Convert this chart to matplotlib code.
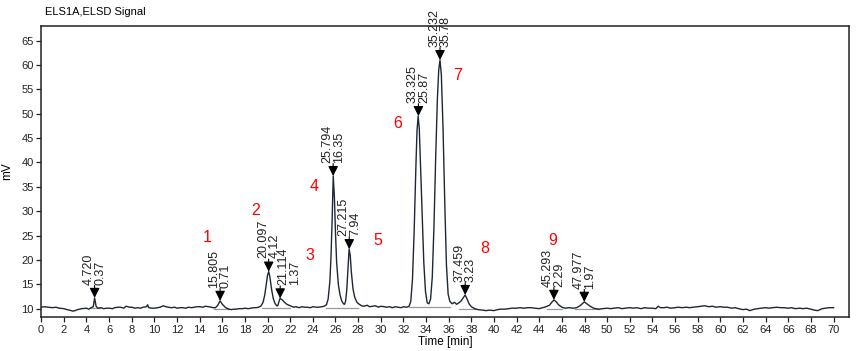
#!/usr/bin/env python3
"""ELSD chromatogram (ELS1A) with peak labels, redrawn with matplotlib."""

import matplotlib
matplotlib.use("Agg")
import matplotlib.pyplot as plt

plt.rcParams["font.family"] = ["Liberation Sans", "DejaVu Sans"]

# trace: time [min], signal [mV]
time_min = [
    0.0, 0.3, 0.6, 1.0, 1.3, 1.6, 2.0, 2.3, 2.5, 2.8, 3.0, 3.2, 3.6, 4.0, 4.2, 4.4,
    4.6, 4.72, 4.85, 5.0, 5.3, 5.5, 5.8, 6.0, 6.3, 6.5, 6.8, 7.0, 7.3, 7.5, 7.8,
    8.0, 8.3, 8.5, 8.8, 9.0, 9.3, 9.4, 9.5, 9.8, 10.0, 10.3, 10.5, 10.8, 11.0,
    11.2, 11.5, 11.8, 12.0, 12.3, 12.5, 12.8, 13.0, 13.3, 13.5, 13.8, 14.0, 14.3,
    14.5, 14.8, 15.0, 15.2, 15.4, 15.6, 15.8, 16.0, 16.3, 16.6, 16.8, 17.0, 17.2,
    17.5, 17.8, 18.0, 18.3, 18.5, 18.8, 19.0, 19.2, 19.4, 19.6, 19.75, 19.9, 20.0,
    20.1, 20.2, 20.35, 20.5, 20.65, 20.8, 20.9, 21.0, 21.1, 21.3, 21.5, 21.7,
    22.0, 22.3, 22.5, 22.8, 23.0, 23.3, 23.5, 23.8, 24.0, 24.3, 24.5, 24.8, 25.0,
    25.2, 25.35, 25.5, 25.6, 25.7, 25.8, 25.9, 26.0, 26.1, 26.25, 26.4, 26.55,
    26.7, 26.8, 26.9, 27.0, 27.1, 27.2, 27.3, 27.4, 27.55, 27.7, 27.9, 28.1,
    28.3, 28.5, 28.8, 29.0, 29.3, 29.5, 29.8, 30.0, 30.3, 30.5, 30.8, 31.0,
    31.3, 31.5, 31.8, 32.0, 32.3, 32.5, 32.65, 32.8, 32.95, 33.1, 33.2, 33.3,
    33.4, 33.5, 33.65, 33.8, 33.95, 34.1, 34.25, 34.4, 34.55, 34.7, 34.85, 35.0,
    35.12, 35.23, 35.35, 35.5, 35.65, 35.8, 35.95, 36.1, 36.3, 36.5, 36.7, 36.9,
    37.1, 37.3, 37.45, 37.6, 37.8, 38.0, 38.3, 38.6, 39.0, 39.3, 39.6, 40.0,
    40.3, 40.6, 41.0, 41.3, 41.6, 42.0, 42.3, 42.6, 43.0, 43.3, 43.6, 44.0,
    44.3, 44.6, 44.9, 45.1, 45.3, 45.5, 45.7, 46.0, 46.3, 46.6, 47.0, 47.3,
    47.6, 47.8, 47.98, 48.2, 48.5, 48.8, 49.0, 49.3, 49.6, 50.0, 50.3, 50.6,
    51.0, 51.3, 51.6, 52.0, 52.3, 52.6, 53.0, 53.3, 53.6, 54.0, 54.3, 54.5,
    54.7, 55.0, 55.3, 55.6, 56.0, 56.3, 56.6, 57.0, 57.3, 57.6, 58.0, 58.3,
    58.6, 59.0, 59.3, 59.6, 60.0, 60.3, 60.6, 61.0, 61.3, 61.6, 62.0, 62.3,
    62.6, 63.0, 63.3, 63.6, 64.0, 64.3, 64.6, 65.0, 65.3, 65.6, 66.0, 66.3,
    66.6, 67.0, 67.3, 67.6, 68.0, 68.3, 68.6, 69.0, 69.3, 69.6, 70.0,
]
signal_mv = [
    10.3, 10.4, 10.3, 10.2, 10.3, 10.1, 10.0, 9.8, 9.7, 9.5, 9.6, 9.8, 10.0, 10.1, 9.9, 10.2,
    10.4, 12.2, 10.5, 10.1, 10.2, 10.0, 10.1, 10.1, 10.0, 10.2, 10.3, 10.3, 10.1, 10.5, 10.3,
    10.3, 10.1, 10.2, 10.1, 10.3, 10.4, 10.8, 10.2, 10.1, 10.1, 10.2, 10.3, 10.6, 10.4,
    10.3, 10.2, 10.3, 10.1, 10.2, 10.2, 10.1, 10.3, 10.2, 10.3, 10.4, 10.4, 10.3,
    10.5, 10.4, 10.3, 10.2, 10.2, 10.7, 11.6, 10.9, 10.2, 9.9, 9.8, 9.9, 9.9,
    10.0, 10.0, 10.1, 10.0, 10.1, 10.2, 10.2, 10.3, 10.5, 11.3, 12.8, 15.2, 16.9,
    17.6, 16.6, 14.0, 12.1, 11.1, 10.6, 10.6, 11.4, 12.1, 11.8, 11.3, 10.9,
    10.6, 10.3, 10.4, 10.2, 10.4, 10.3, 10.3, 10.2, 10.4, 10.3, 10.3, 10.4, 10.5,
    10.8, 12.0, 15.5, 20.5, 28.0, 37.2, 33.0, 25.5, 19.5, 15.0, 12.8, 11.6,
    11.0, 10.9, 11.6, 14.0, 18.0, 22.2, 21.0, 17.5, 14.0, 12.3, 11.3, 10.9,
    10.6, 10.5, 10.7, 10.4, 10.5, 10.6, 10.3, 10.5, 10.4, 10.3, 10.4, 10.2,
    10.4, 10.3, 10.2, 10.4, 10.3, 10.5, 11.5, 16.0, 26.0, 39.0, 46.5, 49.5,
    47.0, 40.0, 29.0, 19.5, 13.5, 11.2, 11.0, 12.0, 16.5, 27.0, 41.0, 53.0,
    59.0, 61.0, 58.0, 47.0, 32.0, 19.0, 13.0, 11.5, 11.0, 11.3, 10.9, 11.2,
    11.6, 12.3, 12.8, 12.1, 11.0, 10.4, 10.0, 9.8, 9.7, 9.6, 9.7, 9.6,
    9.8, 9.9, 9.9, 10.0, 10.1, 10.1, 10.2, 10.1, 10.2, 10.2, 10.1, 10.0,
    10.2, 10.4, 10.7, 11.3, 11.8, 11.4, 10.8, 10.3, 10.1, 10.2, 10.1, 10.2,
    10.6, 11.0, 11.4, 11.0, 10.5, 10.1, 10.0, 9.9, 10.0, 10.1, 10.0, 10.1,
    10.2, 10.0, 10.1, 10.2, 10.1, 10.2, 10.0, 10.2, 10.1, 10.1, 10.0, 10.5,
    10.2, 10.2, 10.3, 10.1, 10.2, 10.3, 10.2, 10.3, 10.2, 10.3, 10.4, 10.5,
    10.6, 10.4, 10.5, 10.3, 10.4, 10.3, 10.3, 10.1, 10.2, 10.0, 9.8, 9.9,
    9.6, 9.9, 10.0, 10.1, 10.2, 10.1, 10.2, 10.3, 10.2, 10.2, 10.1, 10.2,
    10.0, 10.1, 10.0, 10.1, 9.9, 9.7, 9.6, 10.0, 10.1, 10.2, 10.2,
]

# integrated peaks: retention time, apex height, area label
peak_rt = [4.720, 15.805, 20.097, 21.114, 25.794, 27.215, 33.325, 35.232, 37.459, 45.293, 47.977]
peak_top = [12.2, 11.6, 17.6, 12.1, 37.2, 22.2, 49.5, 61.0, 12.8, 11.8, 11.4]
peak_area = ["0.37", "0.71", "4.12", "1.37", "16.35", "7.94", "25.87", "35.78", "3.23", "2.29", "1.97"]
# sideways nudge of a label (pixels), for the crowded one at 21.114
label_dx = [0, 0, 0, 9, 0, 0, 0, 0, 0, 0, 0]

# integration baselines (start, end) drawn in grey under the peaks
base_start = [4.4, 15.3, 19.5, 25.2, 32.5, 36.9, 44.7, 47.2]
base_end = [5.2, 16.6, 22.0, 28.0, 36.1, 38.4, 46.0, 49.3]
base_level = [10.1, 10.0, 10.2, 10.2, 10.3, 10.0, 10.0, 9.9]

# red compound numbers and where they sit
cmpd_names = ["1", "2", "3", "4", "5", "6", "7", "8", "9"]
cmpd_x = [14.7, 18.9, 23.7, 24.1, 29.7, 31.5, 36.8, 39.2, 45.2]
cmpd_y = [24.5, 30.1, 20.9, 35.1, 24.0, 47.9, 57.8, 22.4, 23.9]


def main() -> int:
    fig = plt.figure(figsize=(8.58, 3.51), dpi=100)
    ax = fig.add_axes([0.048, 0.097, 0.942, 0.829])

    for s, e, lv in zip(base_start, base_end, base_level):
        ax.plot([s, e], [lv, lv], color="#9a9a9a", lw=0.9, zorder=1)

    ax.plot(time_min, signal_mv, color="#1f2733", lw=1.0, zorder=2)

    for rt, top, area, dx in zip(peak_rt, peak_top, peak_area, label_dx):
        # short shaft + filled downward triangle, tip on the apex
        ax.annotate("", xy=(rt, top), xytext=(0, 9), textcoords="offset points",
                    arrowprops=dict(arrowstyle="-|>,head_length=0.6,head_width=0.3",
                                    color="black", lw=0.8, mutation_scale=10,
                                    shrinkA=0, shrinkB=0))
        ax.annotate(f"{rt:.3f}\n{area}", xy=(rt, top), xytext=(dx * 0.72, 9.5),
                    textcoords="offset points", rotation=90, ha="center", va="bottom",
                    multialignment="left", fontsize=9, linespacing=0.95,
                    color="#222222", annotation_clip=False)

    for name, x, y in zip(cmpd_names, cmpd_x, cmpd_y):
        ax.text(x, y, name, color="red", fontsize=11.5, ha="center", va="center")

    ax.set_xlim(0, 71.4)
    ax.set_ylim(8.3, 68.0)
    ax.set_xticks(range(0, 71, 2))
    ax.set_yticks(range(10, 66, 5))
    ax.tick_params(labelsize=8, length=3.5, width=0.9, pad=2, colors="#222222")
    for sp in ax.spines.values():
        sp.set_linewidth(1.1)
        sp.set_color("#222222")

    ax.set_xlabel("Time [min]", fontsize=8.5, labelpad=1)
    ax.set_ylabel("mV", fontsize=8.5, labelpad=6)
    fig.text(0.052, 0.965, "ELS1A,ELSD Signal", fontsize=8, va="center", ha="left")

    fig.savefig("out.png", dpi=100)
    return 0


if __name__ == "__main__":
    raise SystemExit(main())
